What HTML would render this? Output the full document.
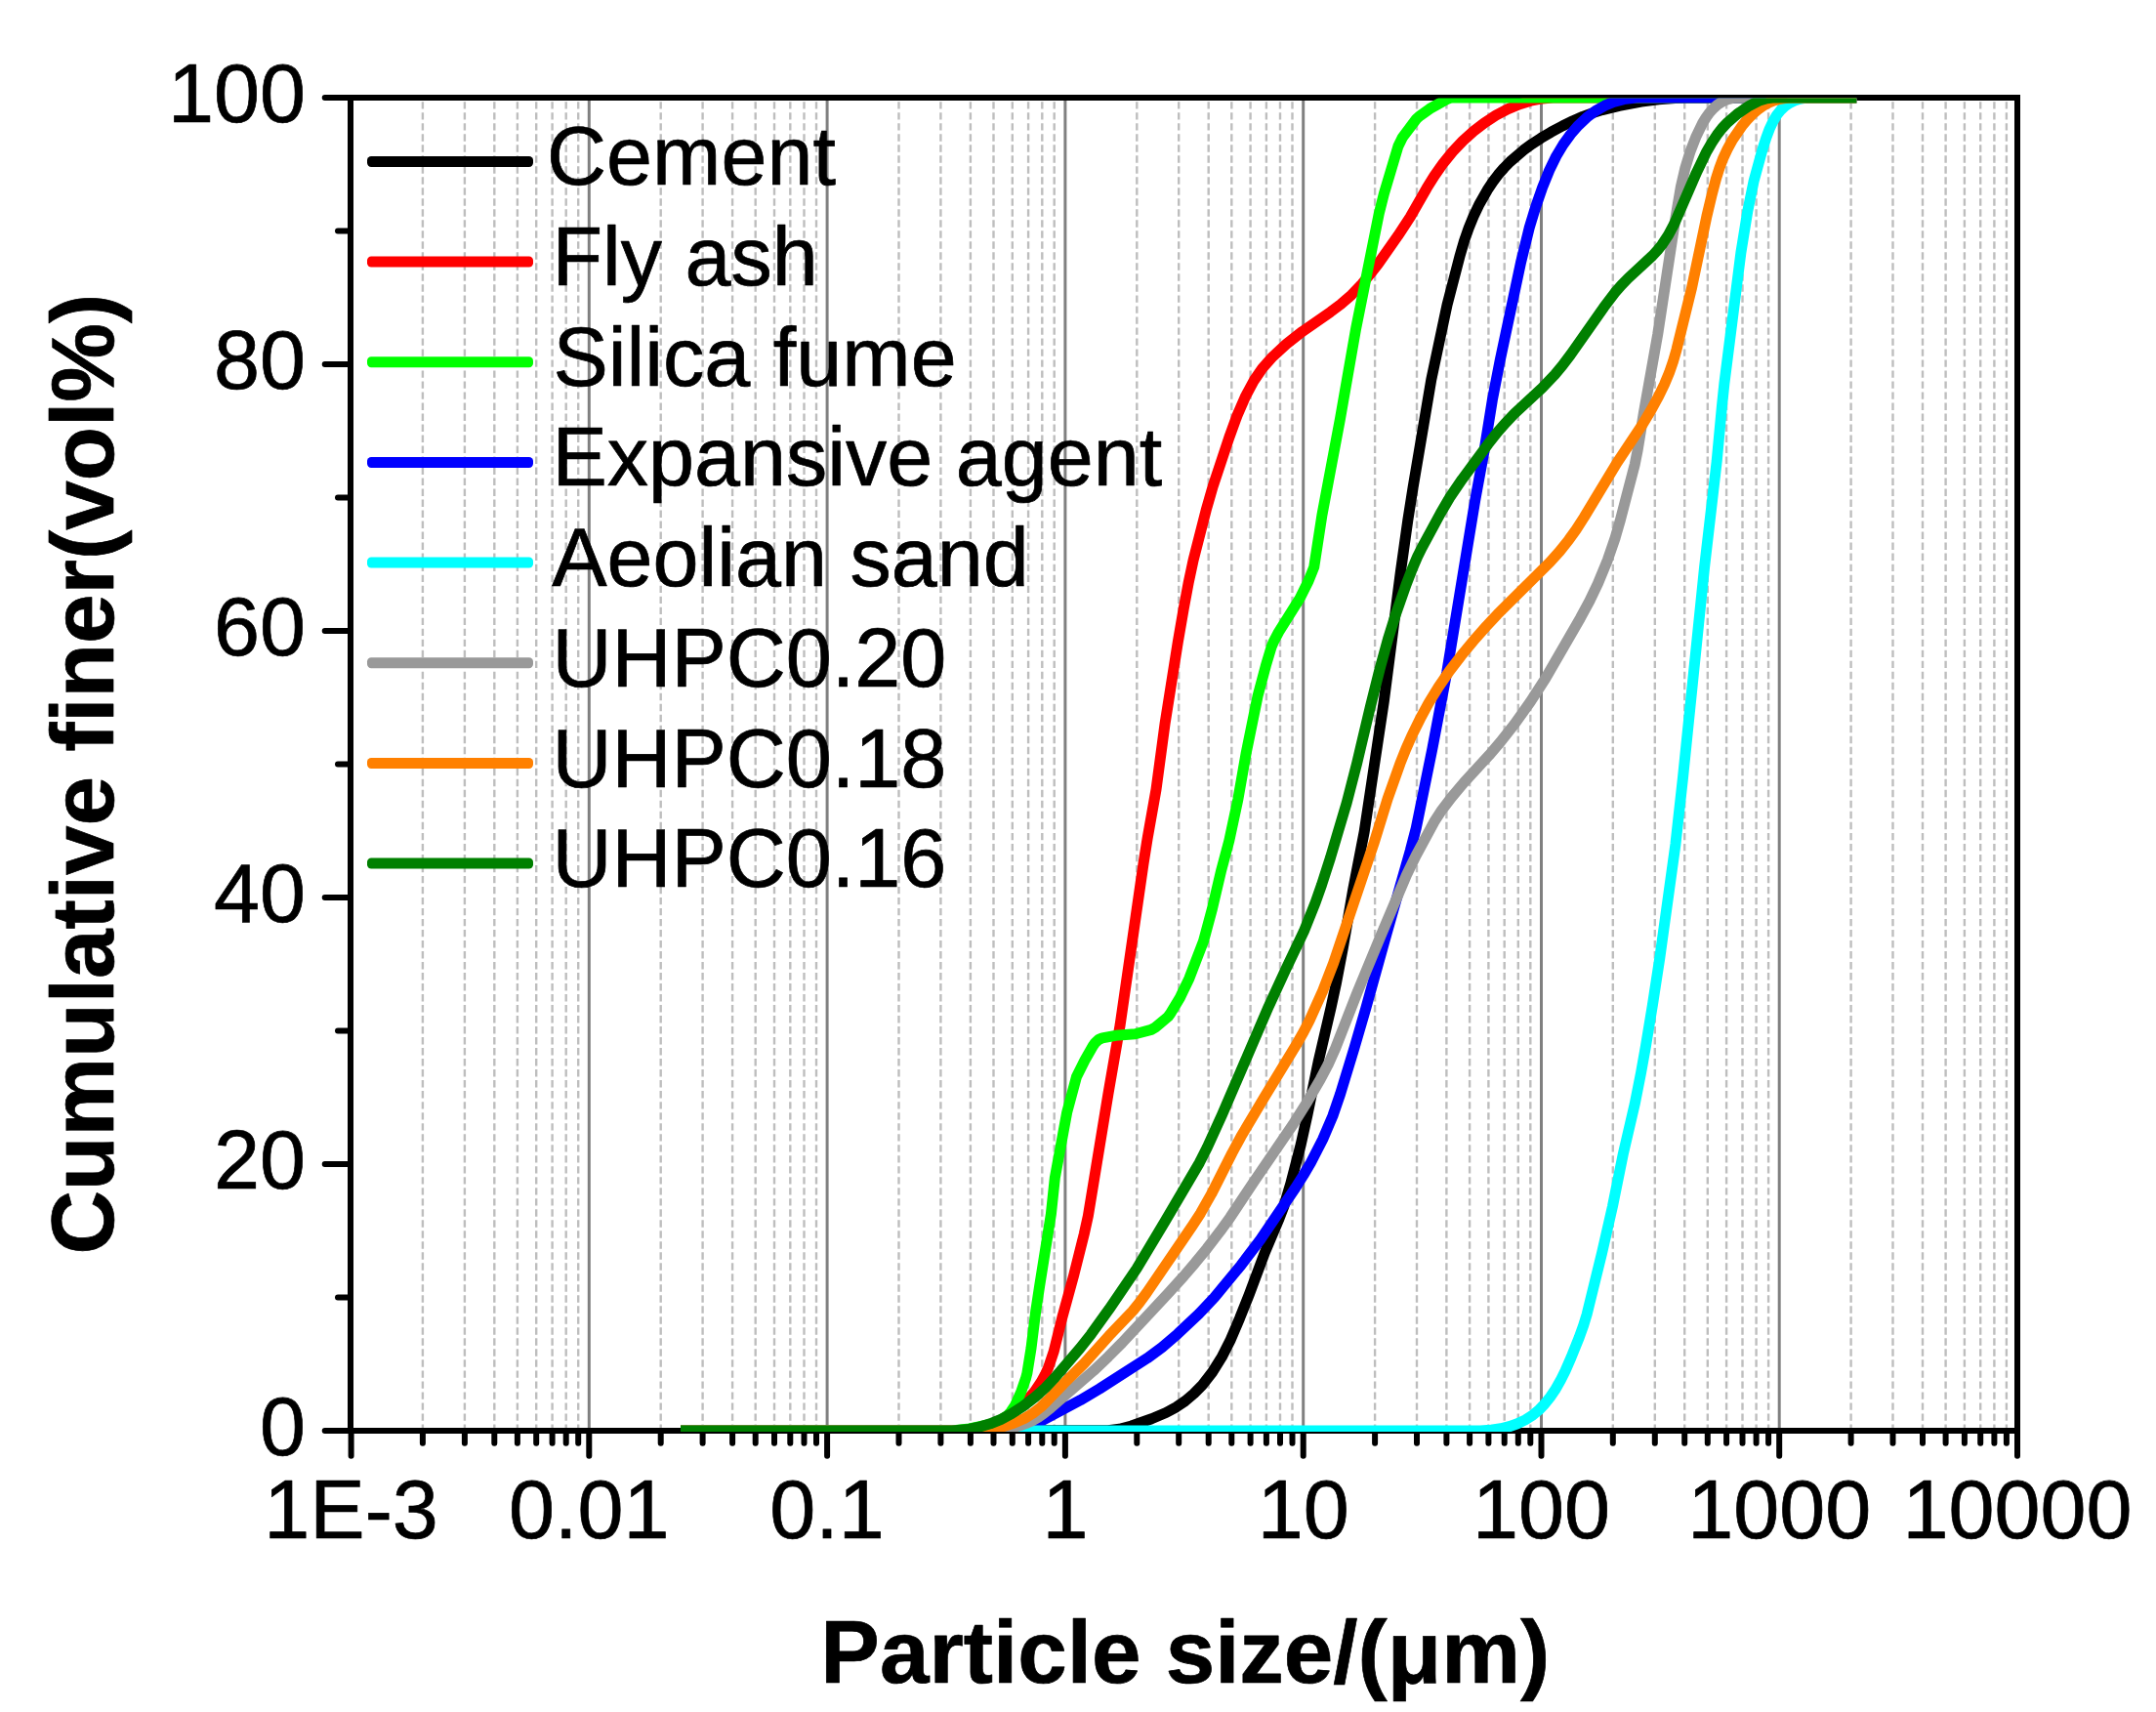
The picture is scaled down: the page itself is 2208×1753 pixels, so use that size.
<!DOCTYPE html>
<html lang="en"><head><meta charset="utf-8"><title>Particle size distribution</title>
<style>html,body{margin:0;padding:0;background:#fff}svg{display:block}text{font-family:"Liberation Sans",sans-serif;fill:#000;stroke:#000;stroke-width:0.7px;stroke-linejoin:round}</style></head><body>
<svg width="2208" height="1753" viewBox="0 0 2208 1753">
<rect width="2208" height="1753" fill="#fff"/>
<defs><clipPath id="plot"><rect x="359.0" y="100.4" width="1707.0" height="1365.6"/></clipPath></defs>
<path d="M432.9 104.2V1462M475.9 104.2V1462M506.3 104.2V1462M529.9 104.2V1462M549.2 104.2V1462M565.6 104.2V1462M579.7 104.2V1462M592.2 104.2V1462M676.7 104.2V1462M719.6 104.2V1462M750.1 104.2V1462M773.7 104.2V1462M793.0 104.2V1462M809.3 104.2V1462M823.5 104.2V1462M836.0 104.2V1462M920.5 104.2V1462M963.4 104.2V1462M993.9 104.2V1462M1017.5 104.2V1462M1036.8 104.2V1462M1053.1 104.2V1462M1067.3 104.2V1462M1079.7 104.2V1462M1164.3 104.2V1462M1207.2 104.2V1462M1237.7 104.2V1462M1261.3 104.2V1462M1280.6 104.2V1462M1296.9 104.2V1462M1311.0 104.2V1462M1323.5 104.2V1462M1408.1 104.2V1462M1451.0 104.2V1462M1481.4 104.2V1462M1505.1 104.2V1462M1524.4 104.2V1462M1540.7 104.2V1462M1554.8 104.2V1462M1567.3 104.2V1462M1651.8 104.2V1462M1694.8 104.2V1462M1725.2 104.2V1462M1748.8 104.2V1462M1768.1 104.2V1462M1784.5 104.2V1462M1798.6 104.2V1462M1811.1 104.2V1462M1895.6 104.2V1462M1938.5 104.2V1462M1969.0 104.2V1462M1992.6 104.2V1462M2011.9 104.2V1462M2028.2 104.2V1462M2042.4 104.2V1462M2054.9 104.2V1462" fill="none" stroke="#bebebe" stroke-width="2.4" stroke-dasharray="7.4 3.61"/>
<path d="M603.3 103V1462M847.1 103V1462M1090.9 103V1462M1334.7 103V1462M1578.5 103V1462M1822.2 103V1462" fill="none" stroke="#808080" stroke-width="3"/>
<g fill="none" stroke="#000" stroke-width="6" stroke-linecap="round">
<path d="M356.0 100.0H2069.0 M356.0 1465.0H2069.0 M359.0 100.0V1465.0 M2066.0 100.0V1465.0" stroke-linecap="butt"/>
<path d="M332.7 1465.0H359.0M346.0 1328.5H359.0M332.7 1192.0H359.0M346.0 1055.5H359.0M332.7 919.0H359.0M346.0 782.5H359.0M332.7 646.0H359.0M346.0 509.5H359.0M332.7 373.0H359.0M346.0 236.5H359.0M332.7 100.0H359.0M359.6 1465.0V1490.7M432.9 1465.0V1477.7M475.9 1465.0V1477.7M506.3 1465.0V1477.7M529.9 1465.0V1477.7M549.2 1465.0V1477.7M565.6 1465.0V1477.7M579.7 1465.0V1477.7M592.2 1465.0V1477.7M603.3 1465.0V1490.7M676.7 1465.0V1477.7M719.6 1465.0V1477.7M750.1 1465.0V1477.7M773.7 1465.0V1477.7M793.0 1465.0V1477.7M809.3 1465.0V1477.7M823.5 1465.0V1477.7M836.0 1465.0V1477.7M847.1 1465.0V1490.7M920.5 1465.0V1477.7M963.4 1465.0V1477.7M993.9 1465.0V1477.7M1017.5 1465.0V1477.7M1036.8 1465.0V1477.7M1053.1 1465.0V1477.7M1067.3 1465.0V1477.7M1079.7 1465.0V1477.7M1090.9 1465.0V1490.7M1164.3 1465.0V1477.7M1207.2 1465.0V1477.7M1237.7 1465.0V1477.7M1261.3 1465.0V1477.7M1280.6 1465.0V1477.7M1296.9 1465.0V1477.7M1311.0 1465.0V1477.7M1323.5 1465.0V1477.7M1334.7 1465.0V1490.7M1408.1 1465.0V1477.7M1451.0 1465.0V1477.7M1481.4 1465.0V1477.7M1505.1 1465.0V1477.7M1524.4 1465.0V1477.7M1540.7 1465.0V1477.7M1554.8 1465.0V1477.7M1567.3 1465.0V1477.7M1578.5 1465.0V1490.7M1651.8 1465.0V1477.7M1694.8 1465.0V1477.7M1725.2 1465.0V1477.7M1748.8 1465.0V1477.7M1768.1 1465.0V1477.7M1784.5 1465.0V1477.7M1798.6 1465.0V1477.7M1811.1 1465.0V1477.7M1822.2 1465.0V1490.7M1895.6 1465.0V1477.7M1938.5 1465.0V1477.7M1969.0 1465.0V1477.7M1992.6 1465.0V1477.7M2011.9 1465.0V1477.7M2028.2 1465.0V1477.7M2042.4 1465.0V1477.7M2054.9 1465.0V1477.7M2066.0 1465.0V1490.7"/>
</g>
<g clip-path="url(#plot)" fill="none" stroke-width="11" stroke-linejoin="round" stroke-linecap="butt">
<path stroke="#000000" d="M697.0 1465.0 L1134.9 1464.8 L1146.5 1463.2 L1158.8 1460.0 L1179.4 1452.7 L1194.1 1446.5 L1204.6 1440.8 L1213.7 1434.6 L1222.8 1426.9 L1231.2 1418.3 L1241.6 1405.0 L1251.2 1389.7 L1259.8 1372.8 L1269.6 1349.8 L1279.2 1325.7 L1295.3 1282.6 L1310.1 1247.6 L1314.7 1235.6 L1321.9 1211.7 L1332.2 1172.0 L1338.9 1141.7 L1350.0 1087.8 L1363.1 1031.4 L1368.2 1007.9 L1375.3 970.6 L1385.6 911.5 L1397.2 851.6 L1417.3 718.1 L1434.3 586.2 L1441.8 532.7 L1447.1 499.1 L1465.8 388.7 L1482.0 312.4 L1495.3 261.2 L1499.5 246.8 L1504.1 233.6 L1509.0 221.6 L1514.6 209.8 L1524.0 193.3 L1529.0 185.9 L1534.4 178.7 L1540.3 172.0 L1546.6 165.5 L1560.2 153.8 L1569.1 147.3 L1578.3 141.3 L1588.6 135.2 L1600.1 129.0 L1610.9 123.8 L1621.0 119.4 L1631.3 115.6 L1640.8 112.6 L1658.3 108.3 L1680.9 104.1 L1698.7 101.7 L1715.6 100.4 L1729.6 100.0 L1901.2 100.0"/>
<path stroke="#ff0000" d="M697.0 1465.0 L981.0 1465.0 L994.0 1464.0 L1004.7 1462.0 L1015.2 1458.7 L1025.2 1454.2 L1034.6 1448.6 L1043.3 1441.9 L1052.0 1433.7 L1059.8 1424.6 L1066.5 1414.7 L1070.3 1407.7 L1073.6 1400.5 L1079.3 1383.5 L1087.7 1349.5 L1099.6 1306.1 L1110.3 1263.5 L1114.4 1244.9 L1135.0 1119.6 L1147.1 1049.7 L1171.0 884.4 L1175.1 858.7 L1184.0 808.5 L1193.2 740.1 L1206.2 658.1 L1212.3 622.7 L1217.3 596.1 L1222.1 573.6 L1235.2 522.3 L1242.1 498.3 L1258.8 448.0 L1267.0 425.5 L1275.8 405.3 L1284.3 389.5 L1292.8 377.2 L1303.4 365.2 L1317.3 352.4 L1333.8 339.4 L1362.6 319.4 L1373.0 311.7 L1384.3 301.8 L1394.6 291.0 L1402.9 281.0 L1411.5 270.0 L1431.6 241.4 L1444.2 222.2 L1461.1 192.7 L1469.0 180.0 L1478.2 166.9 L1487.7 155.3 L1498.0 144.4 L1509.1 134.4 L1520.2 125.8 L1531.9 118.2 L1544.3 111.7 L1556.3 106.7 L1567.7 103.2 L1579.4 100.9 L1590.3 100.0 L1901.2 100.0"/>
<path stroke="#00ff00" d="M697.0 1465.0 L977.0 1464.8 L992.9 1462.9 L1015.4 1458.1 L1020.1 1456.7 L1029.5 1451.0 L1032.6 1448.6 L1035.2 1445.6 L1039.6 1438.9 L1045.7 1425.2 L1050.6 1411.1 L1051.9 1406.2 L1056.0 1380.6 L1060.7 1342.9 L1064.6 1317.2 L1076.4 1243.1 L1080.3 1206.3 L1092.6 1139.4 L1102.4 1102.8 L1110.9 1085.8 L1119.3 1071.0 L1121.6 1067.8 L1125.3 1064.4 L1128.9 1062.9 L1142.6 1060.3 L1162.6 1058.8 L1179.0 1054.4 L1183.2 1052.0 L1196.2 1041.1 L1198.6 1037.9 L1208.4 1021.6 L1217.9 1001.8 L1232.6 963.5 L1241.4 930.7 L1250.8 890.8 L1258.8 860.8 L1267.8 818.8 L1276.3 770.5 L1288.1 712.7 L1296.3 681.8 L1302.0 662.7 L1304.3 657.1 L1309.4 647.4 L1331.2 612.6 L1340.1 594.7 L1345.7 580.8 L1353.9 527.5 L1372.4 429.2 L1388.6 336.6 L1412.2 219.0 L1417.3 198.6 L1431.9 149.7 L1436.3 140.8 L1450.7 121.6 L1454.4 118.4 L1464.2 111.4 L1482.5 101.2 L1485.3 100.2 L1487.2 100.0 L1901.2 100.0"/>
<path stroke="#0000ff" d="M697.0 1465.0 L1032.0 1465.0 L1039.8 1464.1 L1046.5 1462.7 L1055.8 1459.8 L1065.7 1455.4 L1106.4 1433.7 L1126.1 1422.0 L1175.0 1390.7 L1190.2 1379.5 L1206.1 1365.8 L1227.9 1345.2 L1243.7 1328.5 L1271.0 1295.4 L1290.9 1269.1 L1326.3 1216.9 L1334.8 1203.4 L1342.4 1190.5 L1354.7 1166.5 L1364.9 1142.6 L1372.7 1119.9 L1387.0 1073.0 L1398.7 1032.7 L1420.4 954.7 L1444.3 871.0 L1450.3 847.8 L1466.9 766.5 L1481.8 687.9 L1510.7 512.3 L1519.6 464.1 L1528.3 409.8 L1536.3 368.6 L1557.5 268.9 L1566.3 232.9 L1572.7 211.9 L1579.6 192.0 L1586.7 174.4 L1593.7 160.0 L1600.9 148.0 L1608.5 137.5 L1616.4 128.4 L1625.1 120.2 L1633.9 113.6 L1643.4 108.2 L1652.5 104.4 L1663.0 101.6 L1675.7 100.0 L1901.2 100.0"/>
<path stroke="#00ffff" d="M697.0 1465.0 L1516.1 1465.0 L1527.0 1464.2 L1536.9 1462.8 L1545.6 1460.7 L1554.1 1457.7 L1562.1 1453.9 L1568.8 1449.7 L1575.7 1444.1 L1581.9 1437.7 L1587.5 1430.6 L1592.6 1423.2 L1598.1 1413.6 L1603.0 1403.8 L1609.0 1390.0 L1617.2 1369.6 L1621.6 1357.4 L1625.1 1346.0 L1640.6 1282.9 L1651.5 1235.1 L1662.4 1181.2 L1674.2 1130.6 L1680.6 1098.2 L1685.4 1071.6 L1692.4 1029.2 L1699.8 980.8 L1716.0 863.9 L1723.6 795.3 L1745.6 580.5 L1758.2 472.2 L1763.5 415.4 L1765.9 392.6 L1782.9 258.6 L1789.8 216.2 L1796.0 185.8 L1804.7 154.0 L1808.7 141.4 L1812.2 132.0 L1815.6 124.7 L1819.6 117.9 L1823.8 112.6 L1828.0 108.7 L1832.7 105.5 L1837.8 103.0 L1843.3 101.3 L1850.0 100.1 L1901.2 100.0"/>
<path stroke="#999999" d="M697.0 1465.0 L1011.0 1465.0 L1020.0 1464.4 L1028.9 1463.3 L1036.8 1461.8 L1044.5 1459.7 L1051.0 1457.4 L1057.3 1454.6 L1063.3 1451.2 L1069.0 1447.2 L1076.0 1441.6 L1119.8 1403.7 L1135.0 1389.2 L1149.1 1375.0 L1196.2 1324.6 L1212.3 1306.8 L1224.0 1293.1 L1236.0 1278.4 L1249.4 1260.9 L1259.9 1246.4 L1284.3 1209.7 L1324.4 1151.1 L1338.7 1128.3 L1352.3 1104.9 L1360.2 1089.9 L1367.6 1073.5 L1389.8 1016.7 L1414.3 957.6 L1440.5 895.9 L1450.1 876.1 L1468.6 841.8 L1476.7 829.3 L1486.4 816.6 L1499.3 801.3 L1525.0 773.3 L1536.7 759.7 L1550.9 741.6 L1567.2 718.8 L1582.4 695.3 L1618.4 632.9 L1627.9 615.4 L1636.5 597.3 L1646.4 573.3 L1654.2 550.6 L1658.9 534.3 L1674.3 475.3 L1677.2 460.6 L1683.5 422.1 L1697.7 342.4 L1715.2 227.7 L1721.4 191.2 L1725.7 172.7 L1730.9 155.5 L1737.1 139.6 L1743.7 126.0 L1747.4 120.0 L1751.0 115.1 L1754.9 110.8 L1758.5 107.6 L1762.4 104.9 L1766.5 102.8 L1770.9 101.3 L1775.6 100.2 L1901.2 100.0"/>
<path stroke="#ff8000" d="M697.0 1465.0 L998.0 1465.0 L1012.9 1463.7 L1026.6 1460.9 L1038.1 1457.3 L1049.0 1452.5 L1057.5 1447.4 L1066.0 1440.7 L1072.4 1434.5 L1089.0 1417.1 L1110.4 1396.0 L1135.7 1367.8 L1159.9 1342.5 L1166.8 1334.0 L1174.5 1323.5 L1220.1 1256.7 L1229.4 1242.4 L1240.7 1222.4 L1261.9 1180.5 L1270.9 1163.8 L1294.4 1124.2 L1328.7 1067.8 L1335.1 1056.5 L1341.0 1045.0 L1354.5 1014.9 L1365.7 986.0 L1406.9 863.8 L1421.1 817.9 L1433.8 782.1 L1439.7 767.2 L1445.7 753.6 L1455.0 734.8 L1463.1 719.9 L1473.1 703.7 L1484.4 687.2 L1496.5 671.3 L1511.2 653.6 L1522.4 640.9 L1533.4 629.2 L1587.3 575.6 L1597.3 564.5 L1606.6 552.8 L1614.2 542.2 L1622.3 529.6 L1655.9 474.0 L1682.5 434.0 L1691.2 419.4 L1698.8 405.4 L1704.5 393.7 L1709.5 381.7 L1713.4 370.4 L1717.0 357.9 L1732.3 295.8 L1747.9 221.4 L1753.0 200.0 L1757.3 183.5 L1760.9 172.1 L1764.8 161.8 L1769.0 152.8 L1774.3 143.1 L1783.9 129.1 L1789.0 122.9 L1794.5 117.1 L1799.8 112.5 L1805.4 108.5 L1811.4 105.2 L1816.9 103.0 L1823.4 101.2 L1831.2 100.0 L1901.2 100.0"/>
<path stroke="#008000" d="M697.0 1465.0 L975.0 1465.0 L989.9 1463.8 L1001.7 1461.5 L1014.1 1457.8 L1025.2 1453.3 L1035.8 1447.7 L1047.5 1440.1 L1060.2 1430.3 L1070.6 1421.0 L1080.2 1410.8 L1106.2 1380.4 L1117.3 1366.3 L1136.0 1340.3 L1164.1 1299.0 L1193.4 1250.1 L1228.4 1190.6 L1236.5 1174.6 L1251.4 1141.8 L1299.2 1030.7 L1316.8 992.5 L1335.3 953.7 L1347.2 924.0 L1353.5 906.1 L1362.4 878.5 L1379.2 822.0 L1389.7 781.3 L1403.3 723.9 L1413.3 684.1 L1421.8 653.3 L1429.6 628.5 L1440.2 598.3 L1447.1 580.6 L1451.4 570.5 L1456.3 560.6 L1475.3 525.5 L1484.4 509.9 L1497.3 490.9 L1524.0 454.7 L1533.9 442.2 L1542.5 432.4 L1550.7 423.7 L1579.3 397.2 L1592.4 383.5 L1600.1 374.3 L1608.5 363.1 L1642.4 314.8 L1653.8 299.7 L1660.4 292.1 L1667.3 285.0 L1692.3 261.9 L1697.7 256.0 L1702.0 250.6 L1708.6 240.6 L1714.7 229.1 L1737.4 176.8 L1747.8 155.2 L1753.3 145.7 L1758.3 138.2 L1763.8 131.1 L1769.3 125.3 L1779.1 116.8 L1791.5 108.3 L1801.1 103.3 L1809.5 100.8 L1815.2 100.0 L1901.2 100.0"/>
</g>
<g>
<rect x="376" y="159.9" width="170" height="11" rx="4.2" fill="#000000"/>
<rect x="376" y="262.6" width="170" height="11" rx="4.2" fill="#ff0000"/>
<rect x="376" y="365.2" width="170" height="11" rx="4.2" fill="#00ff00"/>
<rect x="376" y="467.9" width="170" height="11" rx="4.2" fill="#0000ff"/>
<rect x="376" y="570.6" width="170" height="11" rx="4.2" fill="#00ffff"/>
<rect x="376" y="673.2" width="170" height="11" rx="4.2" fill="#999999"/>
<rect x="376" y="775.9" width="170" height="11" rx="4.2" fill="#ff8000"/>
<rect x="376" y="878.6" width="170" height="11" rx="4.2" fill="#008000"/>
</g>
<g font-size="84.5">
<text x="560.1" y="189.0">Cement</text>
<text x="565.4" y="291.8">Fly ash</text>
<text x="566.4" y="394.5">Silica fume</text>
<text x="565.4" y="497.2">Expansive agent</text>
<text x="565.2" y="600.0">Aeolian sand</text>
<text x="565.4" y="702.8">UHPC0.20</text>
<text x="565.4" y="805.5">UHPC0.18</text>
<text x="565.4" y="908.2">UHPC0.16</text>
</g>
<g font-size="84.5" text-anchor="end">
<text x="313.1" y="1489.9">0</text>
<text x="313.1" y="1216.9">20</text>
<text x="313.1" y="943.9">40</text>
<text x="313.1" y="670.9">60</text>
<text x="313.1" y="397.9">80</text>
<text x="313.1" y="124.9">100</text>
</g>
<g font-size="84.5" text-anchor="middle">
<text x="359.6" y="1575.1">1E-3</text>
<text x="603.3" y="1575.1">0.01</text>
<text x="847.1" y="1575.1">0.1</text>
<text x="1090.9" y="1575.1">1</text>
<text x="1334.7" y="1575.1">10</text>
<text x="1578.5" y="1575.1">100</text>
<text x="1822.2" y="1575.1">1000</text>
<text x="2066.0" y="1575.1">10000</text>
</g>
<g font-size="90.8" font-weight="bold">
<text x="1213.8" y="1722.8" text-anchor="middle">Particle size/(μm)</text>
<text transform="translate(116.2 1284.5) rotate(-90)">Cumulative finer(vol%)</text>
</g>
</svg></body></html>
